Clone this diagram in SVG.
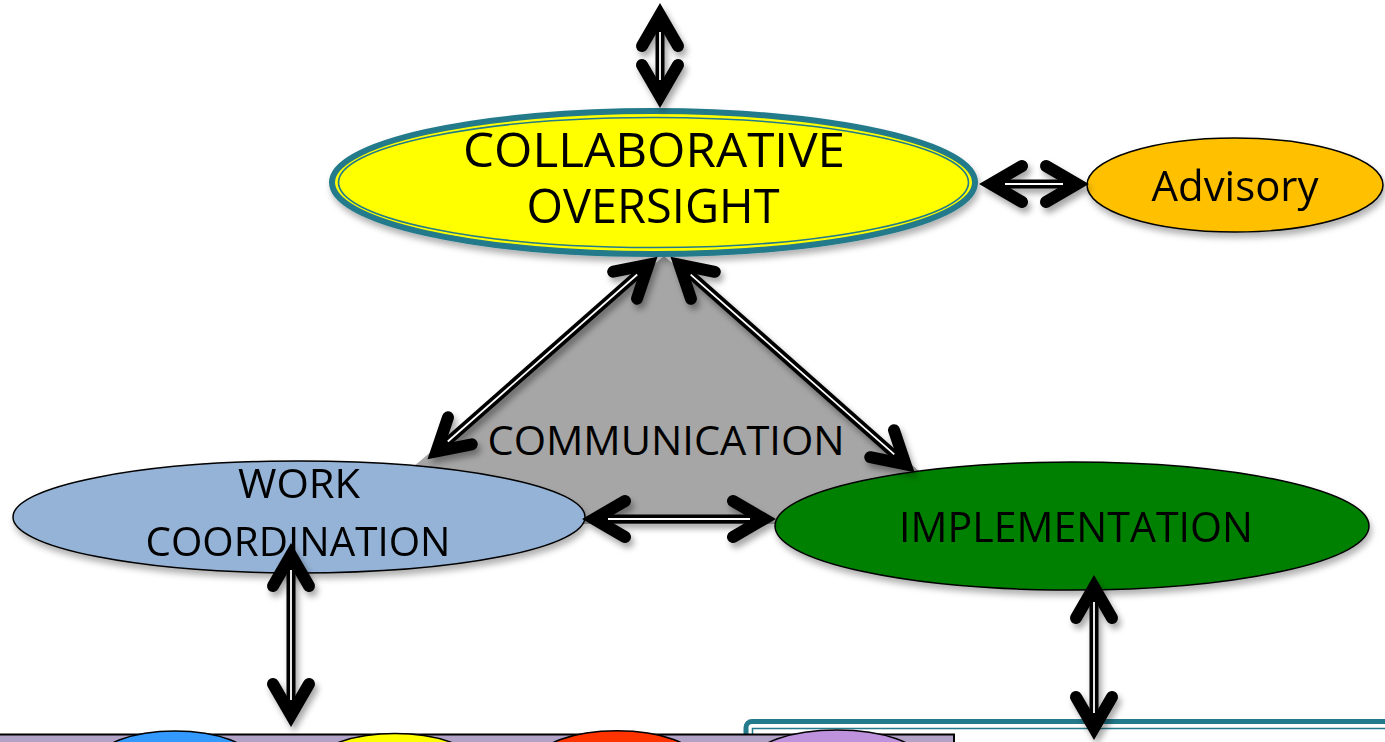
<svg xmlns="http://www.w3.org/2000/svg" width="1385" height="742" viewBox="0 0 1385 742">
  <defs>
    <filter id="shadow" x="-20%" y="-20%" width="140%" height="140%">
      <feDropShadow dx="3" dy="5" stdDeviation="3" flood-color="#000" flood-opacity="0.35"/>
    </filter>
    <filter id="soft" x="-10%" y="-20%" width="120%" height="150%">
      <feDropShadow dx="2" dy="5" stdDeviation="3" flood-color="#000" flood-opacity="0.3"/>
    </filter>
  </defs>
  <style>
    text { font-family: "Open Sans", "Liberation Sans", sans-serif; fill: #000; text-anchor: middle; }
    .node { stroke: #000; stroke-width: 1.5; }
    .teal { stroke: #237A8A; fill: none; }
    .shaft { stroke: #000; stroke-width: 9; stroke-linecap: butt; fill: none; }
    .gap { stroke: #fff; stroke-width: 1.8; stroke-linecap: butt; fill: none; }
    .head { stroke: #000; stroke-width: 12; stroke-linecap: round; stroke-linejoin: miter; stroke-miterlimit: 6; fill: none; }
    .dot { stroke: #000; stroke-width: 1.5; }
  </style>

  <rect width="1385" height="742" fill="#fff"/>

  <!-- grey communication triangle behind the nodes -->
  <g id="communication">
    <polygon points="664,256 345,524 982,524" fill="#A6A6A6"/>
    <text x="666" y="455" font-size="40" textLength="357" lengthAdjust="spacingAndGlyphs">COMMUNICATION</text>
  </g>

  <!-- lower panels -->
  <g id="implementation-panel">
    <rect x="746" y="721.5" width="700" height="60" rx="6" fill="#fff" stroke="#237A8A" stroke-width="5"/>
    <rect x="752.5" y="728.5" width="700" height="60" fill="none" stroke="#237A8A" stroke-width="1.5"/>
  </g>
  <g id="work-panel">
    <rect x="-2" y="734.5" width="956" height="30" fill="#B3A2C7" stroke="#000" stroke-width="2"/>
    <ellipse class="dot" cx="175" cy="761" rx="78" ry="30" fill="#3399FF"/>
    <ellipse class="dot" cx="395" cy="763.5" rx="79" ry="30" fill="#FFFF00"/>
    <ellipse class="dot" cx="617" cy="760.7" rx="80" ry="30" fill="#FF3300"/>
    <ellipse class="dot" cx="837" cy="760" rx="84" ry="30" fill="#BE92DD"/>
  </g>

  <g id="work-coordination" filter="url(#soft)">
    <ellipse class="node" cx="299" cy="517" rx="286" ry="56" fill="#95B3D7"/>
    <text x="299" y="498" font-size="41" textLength="122" lengthAdjust="spacingAndGlyphs">WORK</text>
    <text x="298" y="556" font-size="41" textLength="305" lengthAdjust="spacingAndGlyphs">COORDINATION</text>
  </g>

  <g id="implementation" filter="url(#soft)">
    <ellipse class="node" cx="1072" cy="526" rx="297" ry="64" fill="#008000"/>
    <text x="1076" y="542" font-size="42" textLength="354" lengthAdjust="spacingAndGlyphs">IMPLEMENTATION</text>
  </g>

  <g id="collaborative-oversight" filter="url(#soft)">
    <ellipse cx="653.5" cy="182.5" rx="321.5" ry="71.5" fill="#FFFF00" stroke="#237A8A" stroke-width="6"/>
    <ellipse class="teal" cx="653.5" cy="182.5" rx="315" ry="65" stroke-width="1.6"/>
    <text x="654" y="167" font-size="48" textLength="382" lengthAdjust="spacingAndGlyphs">COLLABORATIVE</text>
    <text x="653" y="223" font-size="48" textLength="253" lengthAdjust="spacingAndGlyphs">OVERSIGHT</text>
  </g>

  <g id="advisory" filter="url(#soft)">
    <ellipse class="node" cx="1235" cy="185" rx="148" ry="47" fill="#FFC000"/>
    <text x="1235" y="201" font-size="42" textLength="167" lengthAdjust="spacingAndGlyphs">Advisory</text>
  </g>

  <!-- double-shafted two-way connectors -->
  <g id="connectors" filter="url(#shadow)">
    <!-- oversight up -->
    <g>
      <line class="shaft" x1="660" y1="17" x2="660" y2="94"/>
      <line class="gap" x1="660" y1="32" x2="660" y2="80"/>
      <polyline class="head" points="642,46 660,15 678,46"/>
      <polyline class="head" points="642,65 660,96 678,65"/>
    </g>
    <!-- oversight to advisory -->
    <g>
      <line class="shaft" x1="993" y1="184" x2="1075" y2="184"/>
      <line class="gap" x1="1005" y1="184" x2="1063" y2="184"/>
      <polyline class="head" points="1022,166 991,184 1022,202"/>
      <polyline class="head" points="1046,166 1077,184 1046,202"/>
    </g>
    <!-- oversight to work coordination -->
    <g>
      <line class="shaft" x1="648.5" y1="264.6" x2="436.5" y2="451.4"/>
      <line class="gap" x1="637.2" y1="274.5" x2="447.8" y2="441.5"/>
      <polyline class="head" points="637,298.7 648.5,264.6 613.2,271.7"/>
      <polyline class="head" points="471.8,444.3 436.5,451.4 448,417.3"/>
    </g>
    <!-- oversight to implementation -->
    <g>
      <line class="shaft" x1="679.5" y1="264.6" x2="905.5" y2="464.4"/>
      <line class="gap" x1="690.7" y1="274.6" x2="894.3" y2="454.4"/>
      <polyline class="head" points="691,298.8 679.5,264.6 714.8,271.8"/>
      <polyline class="head" points="870.2,457.2 905.5,464.4 894,430.2"/>
    </g>
    <!-- work coordination to implementation -->
    <g>
      <line class="shaft" x1="596" y1="519" x2="762" y2="519"/>
      <line class="gap" x1="608" y1="519" x2="750" y2="519"/>
      <polyline class="head" points="625,501 594,519 625,537"/>
      <polyline class="head" points="733,501 764,519 733,537"/>
    </g>
    <!-- work coordination down -->
    <g>
      <line class="shaft" x1="291" y1="557" x2="291" y2="713"/>
      <line class="gap" x1="291" y1="570" x2="291" y2="700"/>
      <polyline class="head" points="273,586 291,555 309,586"/>
      <polyline class="head" points="273,684 291,715 309,684"/>
    </g>
    <!-- implementation down -->
    <g>
      <line class="shaft" x1="1094" y1="589" x2="1094" y2="726"/>
      <line class="gap" x1="1094" y1="602" x2="1094" y2="713"/>
      <polyline class="head" points="1076,618 1094,587 1112,618"/>
      <polyline class="head" points="1076,697 1094,728 1112,697"/>
    </g>
  </g>
</svg>
